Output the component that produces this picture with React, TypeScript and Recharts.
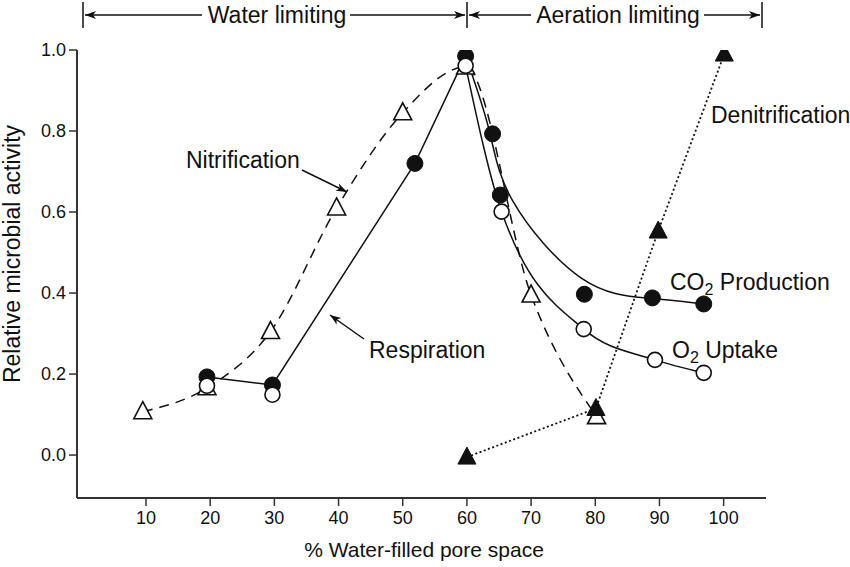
import React from "react";
import { ComposedChart, Line, XAxis, YAxis } from "recharts";

// % water-filled pore space (x) and relative microbial activity (y)
const co2X = [19.5, 29.7, 51.9, 59.8, 64.0, 65.2, 78.3, 88.9, 96.9];
const co2Y = [0.193, 0.173, 0.72, 0.985, 0.793, 0.642, 0.397, 0.388, 0.373];

const o2X = [19.5, 29.7, 59.8, 65.4, 78.2, 89.3, 96.9];
const o2Y = [0.171, 0.149, 0.961, 0.601, 0.311, 0.235, 0.203];

const nitrX = [9.5, 19.5, 29.4, 39.7, 50.0, 59.8, 70.0, 80.2];
const nitrY = [0.107, 0.166, 0.305, 0.61, 0.845, 0.958, 0.395, 0.095];

const denitX = [60.0, 80.1, 89.8, 100.1];
const denitY = [-0.005, 0.115, 0.553, 0.99];

const xTicks = [10, 20, 30, 40, 50, 60, 70, 80, 90, 100];
const yTicks = [0, 0.2, 0.4, 0.6, 0.8, 1.0];

const zip = (xs: number[], ys: number[]) => xs.map((x, i) => ({ x, y: ys[i] }));

const co2 = zip(co2X, co2Y);
const o2 = zip(o2X, o2Y);
const nitr = zip(nitrX, nitrY);
const denit = zip(denitX, denitY);

const co2Rise = co2.filter((p) => p.x <= 60);
const co2Fall = co2.filter((p) => p.x >= 59);
const o2Fall = o2.filter((p) => p.x >= 59);

const FONT = "'Liberation Sans', Arial, Helvetica, sans-serif";
const INK = "#111";

const FilledCircle = (props: any) => {
  const { cx, cy } = props;
  if (cx == null || cy == null) return null;
  return <circle cx={cx} cy={cy} r={8} fill={INK} stroke={INK} strokeWidth={1} />;
};
const OpenCircle = (props: any) => {
  const { cx, cy } = props;
  if (cx == null || cy == null) return null;
  return <circle cx={cx} cy={cy} r={7.5} fill="#fff" stroke={INK} strokeWidth={1.6} />;
};
const triPath = (cx: number, cy: number) =>
  `M${cx},${cy - 10} L${cx + 9},${cy + 7} L${cx - 9},${cy + 7} Z`;
const OpenTriangle = (props: any) => {
  const { cx, cy } = props;
  if (cx == null || cy == null) return null;
  return <path d={triPath(cx, cy)} fill="#fff" stroke={INK} strokeWidth={1.6} />;
};
const FilledTriangle = (props: any) => {
  const { cx, cy } = props;
  if (cx == null || cy == null) return null;
  return <path d={triPath(cx, cy)} fill={INK} stroke={INK} strokeWidth={1} />;
};

const arrowHead = (x1: number, y1: number, x2: number, y2: number, len = 11, half = 4) => {
  const dx = x2 - x1;
  const dy = y2 - y1;
  const d = Math.sqrt(dx * dx + dy * dy);
  const ux = dx / d;
  const uy = dy / d;
  const bx = x2 - ux * len;
  const by = y2 - uy * len;
  const nx = -uy;
  const ny = ux;
  return `M${x2},${y2} L${bx + nx * half},${by + ny * half} L${bx + ux * 3},${by + uy * 3} L${bx - nx * half},${by - ny * half} Z`;
};

const Arrow = ({ x1, y1, x2, y2 }: any) => (
  <g>
    <line x1={x1} y1={y1} x2={x2} y2={y2} stroke={INK} strokeWidth={1.5} />
    <path d={arrowHead(x1, y1, x2, y2)} fill={INK} />
  </g>
);

const Overlay = () => (
  <svg
    width={850}
    height={567}
    style={{ position: "absolute", left: 0, top: 0, pointerEvents: "none" }}
    fontFamily={FONT}
  >
    {/* top range annotation */}
    <line x1={83} y1={2} x2={83} y2={28} stroke={INK} strokeWidth={1.5} />
    <Arrow x1={202} y1={15} x2={85} y2={15} />
    <text x={277} y={23} fontSize={23} textAnchor="middle" fill={INK}>Water limiting</text>
    <Arrow x1={350} y1={15} x2={465} y2={15} />
    <line x1={467} y1={2} x2={467} y2={28} stroke={INK} strokeWidth={1.5} />
    <Arrow x1={531} y1={15} x2={469} y2={15} />
    <text x={618} y={23} fontSize={23} textAnchor="middle" fill={INK}>Aeration limiting</text>
    <Arrow x1={704} y1={15} x2={760} y2={15} />
    <line x1={762} y1={2} x2={762} y2={28} stroke={INK} strokeWidth={1.5} />

    {/* series annotations */}
    <text x={186} y={168} fontSize={23} fill={INK}>Nitrification</text>
    <Arrow x1={302} y1={170} x2={347} y2={192} />
    <text x={369} y={358} fontSize={23} fill={INK}>Respiration</text>
    <Arrow x1={364} y1={339} x2={330} y2={315} />
    <text x={711} y={123} fontSize={23} fill={INK}>Denitrification</text>
    <text x={670} y={290} fontSize={23} fill={INK}>
      CO<tspan dy={5} fontSize={16}>2</tspan>
      <tspan dy={-5}> Production</tspan>
    </text>
    <text x={672} y={358} fontSize={23} fill={INK}>
      O<tspan dy={5} fontSize={16}>2</tspan>
      <tspan dy={-5}> Uptake</tspan>
    </text>

    {/* axis titles */}
    <text x={424} y={557} fontSize={21} textAnchor="middle" fill={INK}>% Water-filled pore space</text>
    <text
      x={0}
      y={0}
      fontSize={23}
      textAnchor="middle"
      fill={INK}
      transform="translate(20,254) rotate(-90)"
    >
      Relative microbial activity
    </text>
  </svg>
);

export default function App() {
  return (
    <div style={{ position: "absolute", left: 0, top: 0, width: 850, height: 567, background: "#fff" }}>
      <ComposedChart
        width={850}
        height={567}
        margin={{ top: 50, right: 84, bottom: 0, left: 0 }}
        style={{ fontFamily: FONT }}
      >
        <XAxis
          type="number"
          dataKey="x"
          domain={[-0.75, 106.6]}
          ticks={xTicks}
          allowDataOverflow
          height={69}
          axisLine={{ stroke: "#333", strokeWidth: 2 }}
          tickLine={{ stroke: "#333", strokeWidth: 1.5 }}
          tickSize={8}
          tickMargin={5}
          tick={{ fill: INK, fontSize: 18, fontFamily: FONT }}
        />
        <YAxis
          type="number"
          dataKey="y"
          domain={[-0.106, 1.0]}
          ticks={yTicks}
          allowDataOverflow
          width={77}
          axisLine={{ stroke: "#333", strokeWidth: 2 }}
          tickLine={{ stroke: "#333", strokeWidth: 1.5 }}
          tickSize={8}
          tickMargin={3}
          tickFormatter={(v: number) => v.toFixed(1)}
          tick={{ fill: INK, fontSize: 18, fontFamily: FONT }}
        />
        {/* curves */}
        <Line data={nitr} dataKey="y" type="monotone" stroke={INK} strokeWidth={1.5} strokeDasharray="10 7" dot={false} isAnimationActive={false} />
        <Line data={denit} dataKey="y" type="linear" stroke={INK} strokeWidth={1.8} strokeDasharray="2 2.5" dot={false} isAnimationActive={false} />
        <Line data={co2Rise} dataKey="y" type="linear" stroke={INK} strokeWidth={1.5} dot={false} isAnimationActive={false} />
        <Line data={co2Fall} dataKey="y" type="basis" stroke={INK} strokeWidth={1.5} dot={false} isAnimationActive={false} />
        <Line data={o2Fall} dataKey="y" type="monotone" stroke={INK} strokeWidth={1.5} dot={false} isAnimationActive={false} />
        {/* markers */}
        <Line data={nitr} dataKey="y" stroke="none" dot={<OpenTriangle />} activeDot={false} isAnimationActive={false} />
        <Line data={co2} dataKey="y" stroke="none" dot={<FilledCircle />} activeDot={false} isAnimationActive={false} />
        <Line data={o2} dataKey="y" stroke="none" dot={<OpenCircle />} activeDot={false} isAnimationActive={false} />
        <Line data={denit} dataKey="y" stroke="none" dot={<FilledTriangle />} activeDot={false} isAnimationActive={false} />
      </ComposedChart>
      <Overlay />
    </div>
  );
}
